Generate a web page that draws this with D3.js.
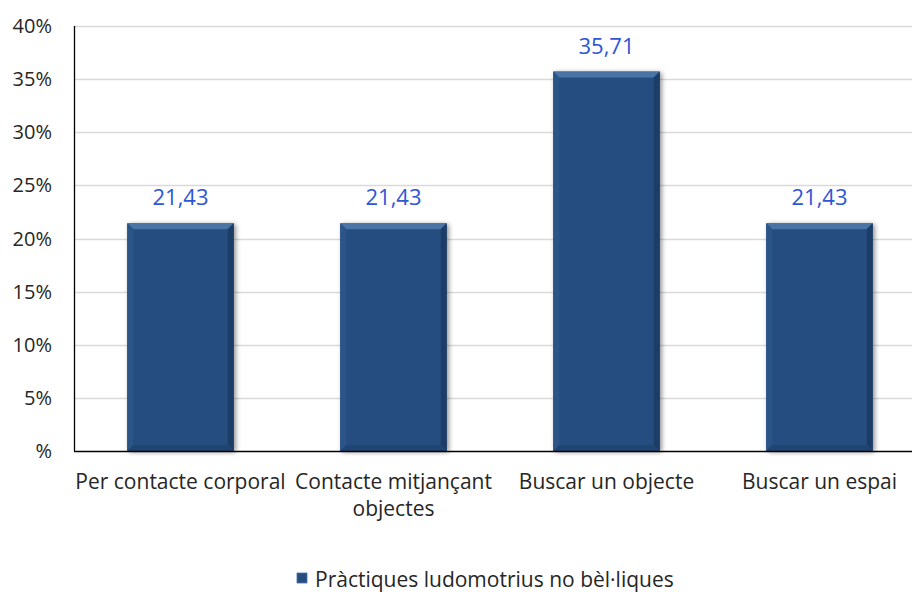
<!DOCTYPE html>
<html><head><meta charset="utf-8">
<script src="https://cdn.jsdelivr.net/npm/d3@7"></script>
<style>
html,body{margin:0;padding:0;background:#fff;}
svg text{font-family:"Open Sans",sans-serif;}
</style></head>
<body>
<svg id="chart" width="912" height="592"></svg>
<script>
const categories = ["Per contacte corporal", "Contacte mitjançant objectes", "Buscar un objecte", "Buscar un espai"];
const categoryLines = [["Per contacte corporal"], ["Contacte mitjançant", "objectes"], ["Buscar un objecte"], ["Buscar un espai"]];
const values = [21.43, 21.43, 35.71, 21.43];
const valueLabels = ["21,43", "21,43", "35,71", "21,43"];
const yTicks = [0, 5, 10, 15, 20, 25, 30, 35, 40];
const yTickLabels = ["%", "5%", "10%", "15%", "20%", "25%", "30%", "35%", "40%"];
const seriesName = "Pràctiques ludomotrius no bèl·liques";

(function(){
const svg = d3.select("#chart");
const pL = 74, pR = 926, pT = 26, pB = 451;
const x = d3.scaleBand().domain(categories).range([pL, pR]).paddingInner(0.5).paddingOuter(0.25);
const y = d3.scaleLinear().domain([0, 40]).range([pB, pT]);

const defs = svg.append("defs");
const f = defs.append("filter").attr("id","sh").attr("x","-20%").attr("y","-10%").attr("width","140%").attr("height","130%");
f.append("feGaussianBlur").attr("in","SourceAlpha").attr("stdDeviation",2.5);
f.append("feOffset").attr("dx",2).attr("dy",1).attr("result","b");
f.append("feComponentTransfer").append("feFuncA").attr("type","linear").attr("slope",0.45);
const m = f.append("feMerge"); m.append("feMergeNode"); m.append("feMergeNode").attr("in","SourceGraphic");

svg.append("g").selectAll("line").data(yTicks.filter(d=>d>0)).join("line")
  .attr("x1", pL).attr("x2", 912).attr("y1", d=>Math.round(y(d))+0.5).attr("y2", d=>Math.round(y(d))+0.5)
  .attr("stroke", "#d9d9d9").attr("stroke-width", 1.3);

svg.append("g").selectAll("text").data(yTicks).join("text")
  .attr("x", 52).attr("y", d=>y(d)+7).attr("text-anchor","end")
  .attr("font-size", 20).attr("fill", "#262626")
  .text((d,i)=>yTickLabels[i]);

const bw = x.bandwidth(), bv = 6;
const bars = svg.append("g").selectAll("g").data(values).join("g")
  .attr("transform", (d,i)=>`translate(${x(categories[i])},${y(d)})`);
bars.append("rect").attr("width", bw).attr("height", d=>pB - y(d)).attr("fill", "#264e80").attr("filter","url(#sh)");
bars.append("polygon").attr("points", `0,0 ${bw},0 ${bw-bv},${bv} ${bv},${bv}`).attr("fill", "#4a74a6");
bars.append("polygon").attr("points", d=>`0,0 ${bv},${bv} ${bv},${pB-y(d)-bv} 0,${pB-y(d)}`).attr("fill", "#2b5487");
bars.append("polygon").attr("points", d=>`${bw},0 ${bw},${pB-y(d)} ${bw-bv},${pB-y(d)-bv} ${bw-bv},${bv}`).attr("fill", "#1c3d66");
bars.append("polygon").attr("points", d=>`0,${pB-y(d)} ${bv},${pB-y(d)-bv} ${bw-bv},${pB-y(d)-bv} ${bw},${pB-y(d)}`).attr("fill", "#1f4573");

svg.append("line").attr("x1", pL+0.5).attr("x2", pL+0.5).attr("y1", pT).attr("y2", pB).attr("stroke","#000").attr("stroke-width",1.3);
svg.append("line").attr("x1", pL).attr("x2", 912).attr("y1", pB+0.5).attr("y2", pB+0.5).attr("stroke","#000").attr("stroke-width",1.3);

svg.append("g").selectAll("text").data(values).join("text")
  .attr("x", (d,i)=>x(categories[i]) + bw/2).attr("y", d=>y(d)-18)
  .attr("text-anchor","middle").attr("font-size", 22).attr("fill", "#2e56d6")
  .text((d,i)=>valueLabels[i]);

const cl = svg.append("g").selectAll("text").data(categoryLines).join("text")
  .attr("x", (d,i)=>x(categories[i]) + bw/2).attr("y", 489)
  .attr("text-anchor","middle").attr("font-size", 21).attr("fill", "#262626");
cl.selectAll("tspan").data(d=>d).join("tspan")
  .attr("x", function(){ return this.parentNode.getAttribute("x"); })
  .attr("dy", (d,i)=>i===0?0:27).text(d=>d);

const lg = svg.append("g");
lg.append("rect").attr("x", 297).attr("y", 573).attr("width", 10).attr("height", 10).attr("fill", "#264e80").attr("stroke","#4a74a6").attr("stroke-width",0.8);
lg.append("text").attr("x", 315).attr("y", 587).attr("font-size", 21).attr("fill", "#262626").text(seriesName);
})();
</script>
</body></html>
